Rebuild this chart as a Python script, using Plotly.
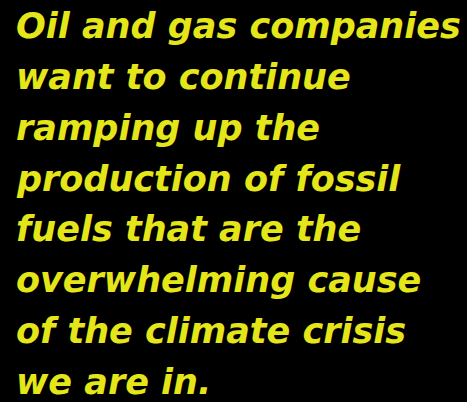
import plotly.graph_objects as go

lines = [
    "Oil and gas companies",
    "want to continue",
    "ramping up the",
    "production of fossil",
    "fuels that are the",
    "overwhelming cause",
    "of the climate crisis",
    "we are in.",
]

W, H = 467, 402
FONT_SIZE = 35
LEFT_PX = 14
FIRST_BASELINE_PX = 38
LINE_STEP_PX = 50.9
TEXT_COLOR = "#E5E619"

fig = go.Figure()
annotations = []
for i, txt in enumerate(lines):
    baseline = FIRST_BASELINE_PX + i * LINE_STEP_PX
    center = baseline - 0.346 * FONT_SIZE
    annotations.append(dict(
        text=txt, xref="paper", yref="paper",
        x=LEFT_PX / W, y=1 - center / H,
        xanchor="left", yanchor="middle", showarrow=False,
        font=dict(family="DejaVu Sans", size=FONT_SIZE, color=TEXT_COLOR,
                  weight="bold", style="italic"),
    ))

fig.update_layout(
    width=W, height=H,
    margin=dict(l=0, r=0, t=0, b=0),
    paper_bgcolor="#000000", plot_bgcolor="#000000",
    xaxis=dict(visible=False), yaxis=dict(visible=False),
    annotations=annotations, showlegend=False,
)
fig.write_html(
    "out.html",
    config={"displayModeBar": False},
    post_script="document.body.style.margin='0';document.body.style.background='#000';",
)
